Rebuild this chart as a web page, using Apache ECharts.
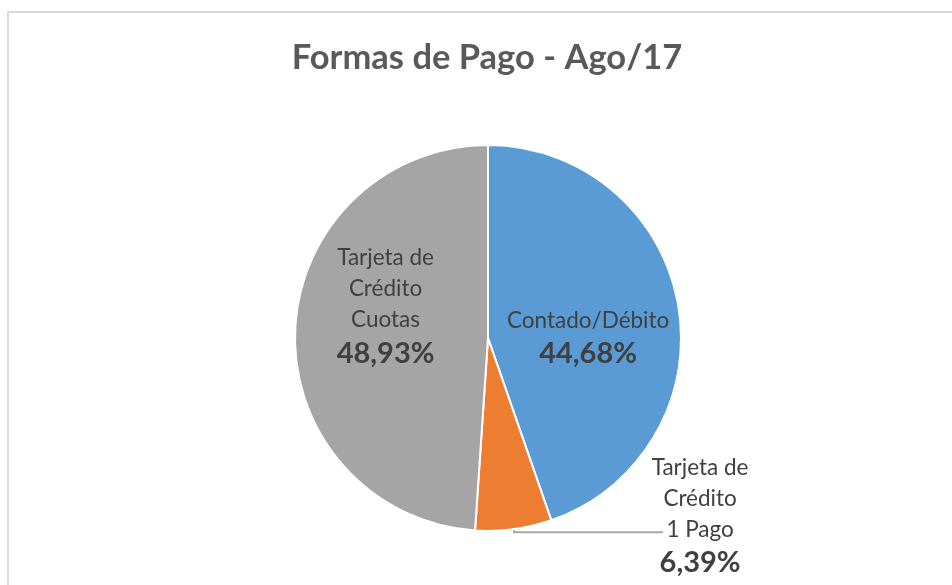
<!DOCTYPE html>
<html>
<head>
<meta charset="utf-8">
<script src="https://cdn.jsdelivr.net/npm/echarts@6/dist/echarts.min.js"></script>
<style>
  body { margin: 0; background: #fff; }
  .frame {
    position: absolute; left: 7px; top: 11px;
    width: 1000px; height: 1000px;
    border: 2px solid #d9d9d9;
  }
  #chart { position: absolute; left: 0; top: 0; width: 952px; height: 585px; }
</style>
</head>
<body>
<div class="frame"></div>
<div id="chart"></div>
<script>
// data
const categories = ['Contado/Débito', 'Tarjeta de Crédito 1 Pago', 'Tarjeta de Crédito Cuotas']
const labelLines = [['Contado/Débito'], ['Tarjeta de', 'Crédito', '1 Pago'], ['Tarjeta de', 'Crédito', 'Cuotas']]
const values = [44.68, 6.39, 48.93]
const colors = ['#5B9BD5', '#ED7D31', '#A5A5A5']

const FONT = 'Lato'

const myChart = echarts.init(document.getElementById('chart'))

// label offsets for the inside labels
const nudge = { 0: [2, 17], 2: [-3, -28] }

const option = {
  title: {
    text: 'Formas de Pago - Ago/17',
    left: 482,
    textAlign: 'center',
    top: 35,
    textStyle: {
      fontFamily: FONT,
      fontSize: 34.5,
      fontWeight: 'bold',
      color: '#595959'
    }
  },
  series: [{
    type: 'pie',
    center: [488, 338],
    radius: 193,
    startAngle: 90,
    avoidLabelOverlap: false,
    itemStyle: {
      borderColor: '#fff',
      borderWidth: 2
    },
    label: {
      position: 'inside',
      formatter: (p) => {
        const lines = labelLines[p.dataIndex].map(t => `{n|${t}}`)
        lines.push(`{p|${p.value.toFixed(2).replace('.', ',')}%}`)
        return lines.join('\n')
      },
      rich: {
        n: { fontFamily: FONT, fontSize: 22.5, color: '#404040', lineHeight: 31, width: 110, align: 'center' },
        p: { fontFamily: FONT, fontSize: 29, fontWeight: 'bold', color: '#404040', lineHeight: 35, width: 110, align: 'center' }
      }
    },
    labelLine: { show: false },
    labelLayout: (params) => {
      const d = nudge[params.dataIndex]
      return d ? { dx: d[0], dy: d[1] } : {}
    },
    data: categories.map((name, i) => {
      const item = { name: name, value: values[i], itemStyle: { color: colors[i] } }
      if (i === 1) {
        item.label = {
          position: 'outside',
          distanceToLabelLine: -18,
          padding: [0, 0, 33, 0]
        }
        item.labelLine = {
          show: true,
          length: 3,
          length2: 149,
          lineStyle: { color: '#a6a6a6', width: 2 }
        }
      }
      return item
    })
  }]
}
myChart.setOption(option)
</script>
</body>
</html>
